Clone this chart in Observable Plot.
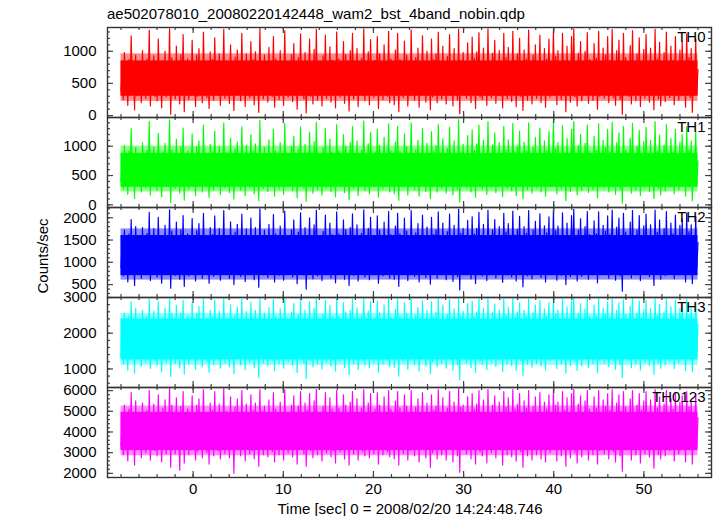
<!DOCTYPE html>
<html><head><meta charset="utf-8">
<script src="https://cdn.jsdelivr.net/npm/d3@7"></script>
<script src="https://cdn.jsdelivr.net/npm/@observablehq/plot@0.6"></script>
<style>
body{margin:0;background:#fff;}
#chart{position:relative;width:717px;height:516px;overflow:hidden;font-family:"Liberation Sans",Arial,sans-serif;color:#000;background:#fff;}
.t{position:absolute;font-size:15px;line-height:15px;white-space:nowrap;}
#chart svg{position:absolute;left:0;}
</style></head><body>
<div id="chart"></div>
<script>
const title = "ae502078010_20080220142448_wam2_bst_4band_nobin.qdp";
const xLabel = "Time [sec] 0 = 2008/02/20 14:24:48.746";
const yLabel = "Counts/sec";
const panelNames = ["TH0", "TH1", "TH2", "TH3", "TH0123"];
const colors = ["#ff0000", "#00ff00", "#0000ff", "#00ffff", "#ff00ff"];
const tStart = -8, tEnd = 56;
const xDomain = [-9.5, 57.5];
const xMajor = [0, 10, 20, 30, 40, 50];
const xMinor = [-8, -6, -4, -2, 0, 2, 4, 6, 8, 10, 12, 14, 16, 18, 20, 22, 24, 26, 28, 30, 32, 34, 36, 38, 40, 42, 44, 46, 48, 50, 52, 54, 56];
const yDomains = [[-30, 1370], [-45, 1490], [210, 2230], [480, 3000], [1800, 6150]];
const yMajor = [[0, 500, 1000], [0, 500, 1000], [500, 1000, 1500, 2000], [1000, 2000, 3000], [2000, 3000, 4000, 5000, 6000]];
const yMinor = [
  [0, 100, 200, 300, 400, 500, 600, 700, 800, 900, 1000, 1100, 1200, 1300],
  [0, 100, 200, 300, 400, 500, 600, 700, 800, 900, 1000, 1100, 1200, 1300, 1400],
  [300, 400, 500, 600, 700, 800, 900, 1000, 1100, 1200, 1300, 1400, 1500, 1600, 1700, 1800, 1900, 2000, 2100, 2200],
  [600, 800, 1000, 1200, 1400, 1600, 1800, 2000, 2200, 2400, 2600, 2800, 3000],
  [2000, 2200, 2400, 2600, 2800, 3000, 3200, 3400, 3600, 3800, 4000, 4200, 4400, 4600, 4800, 5000, 5200, 5400, 5600, 5800, 6000]
];
// solid core of each noisy band, and its softer fringe (counts/sec)
const coreLo = [300, 300, 700, 1250, 3100];
const coreHi = [850, 880, 1600, 2400, 4950];
const edgeLo = [220, 220, 600, 1100, 2850];
const edgeHi = [960, 1000, 1750, 2550, 5250];

// light-curve samples (alternating low / high excursions)
const th0 = [
380,760, 250,980, 420,700, 160,870, 330,1240, 400,780, 90,940, 310,720,
440,820, 200,1010, 350,690, 270,880, 410,1330, 150,760, 360,930, 300,700,
230,1190, 420,740, 120,860, 380,1000, 290,680, 400,1350, 20,900, 340,770,
260,1080, 430,710, 180,950, 350,1260, 60,800, 390,880, 250,730, 320,1170,
410,690, 140,940, 300,1040, 370,760, 200,1300, 440,830, 280,720, 110,990,
350,870, 240,1210, 420,700, 310,960, 160,780, 390,1340, 270,850, 430,740,
190,1100, 360,760, 80,910, 330,1020, 400,700, 230,1280, 350,800, 140,960,
420,730, 280,1150, 310,870, 170,990, 380,710, 50,1360, 340,820, 260,940,
400,780, 210,1060, 370,700, 300,1230, 130,880, 420,760, 250,1010, 340,690,
160,1320, 390,830, 290,720, 440,950, 220,1120, 350,770, 100,900, 320,1270,
380,710, 260,980, 40,850, 410,1190, 300,740, 180,1030, 360,1340, 240,800,
430,690, 150,930, 340,1250, 270,780, 390,1070, 210,860, 320,720, 120,1300,
370,880, 290,760, 410,1150, 190,950, 350,700, 70,1010, 400,1280, 260,790,
320,1040, 140,730, 380,890, 310,1350, 230,770, 420,990, 170,1180, 350,710,
280,860, 400,1230, 110,960, 360,740, 250,1100, 430,800, 300,1310, 200,880,
390,720, 170,1020, 330,1280, 60,870, 410,750, 280,1160, 350,940, 150,690,
310,1330, 420,780, 240,900, 370,1050, 130,760, 330,1240, 400,830, 210,1000,
360,700, 90,1190, 290,870, 430,960, 200,1300, 340,750, 260,1080, 400,720,
180,920, 380,1260, 320,790, 150,1040, 410,700, 240,1340, 30,860, 350,980,
420,760, 270,1130, 360,700, 200,1220, 330,890, 110,990, 390,1290, 290,740,
250,1050, 400,810, 160,1350, 340,730, 280,970, 430,1170, 190,780, 360,1010,
310,690, 120,1280, 380,900, 260,1060, 410,740, 220,1310, 350,860, 140,960,
390,1200, 300,750, 80,1020, 370,880, 240,1330, 420,710, 180,940, 330,1100,
270,800, 410,1250, 200,730, 350,1040, 130,880, 390,1190, 290,770, 440,1340,
340,920, 170,1010, 400,760, 250,1280, 360,850, 60,1080, 320,720, 210,1230,
420,1350, 290,800, 150,970, 380,1150, 230,740, 410,1000, 330,1290, 190,870,
360,720, 240,1120, 410,890, 100,1310, 300,780, 370,1050, 270,940, 430,1230,
200,860, 350,1340, 280,750, 160,1010, 390,1170, 250,820, 20,1280, 340,900,
410,770, 300,1090, 180,1320, 360,730, 230,960, 400,1210, 140,840, 320,1030,
270,1260, 430,800, 210,1050, 340,710, 90,1340, 380,880, 260,1140, 150,760,
390,980, 220,1300, 350,740, 280,1080, 420,860, 170,1230, 330,700, 240,1020,
310,1150, 410,760, 130,1270, 360,900, 280,1040, 50,800, 400,1190, 330,720
];
const th1 = [
400,800, 270,1010, 440,720, 180,920, 350,1300, 410,790, 110,980, 330,750,
460,860, 220,1060, 370,710, 290,930, 420,1420, 170,780, 380,990, 320,730,
250,1220, 440,770, 140,900, 400,1050, 310,700, 420,1450, 40,940, 360,810,
280,1120, 450,740, 200,1000, 370,1310, 80,830, 410,920, 270,760, 340,1210,
430,720, 160,990, 320,1090, 390,790, 220,1360, 460,870, 300,750, 130,1030,
370,910, 260,1260, 440,730, 330,1000, 180,810, 410,1400, 290,890, 450,770,
210,1140, 380,790, 100,950, 350,1070, 420,730, 250,1330, 370,840, 160,1010,
440,760, 300,1200, 330,910, 190,1040, 400,740, 70,1440, 360,860, 280,980,
420,810, 230,1110, 390,730, 320,1290, 150,920, 440,790, 270,1060, 360,720,
180,1390, 410,870, 310,750, 460,1000, 240,1170, 370,800, 120,940, 340,1330,
400,740, 280,1030, 60,890, 430,1240, 320,770, 200,1080, 380,1410, 260,840,
450,720, 170,980, 360,1300, 290,810, 410,1120, 230,900, 340,750, 140,1370,
390,920, 310,790, 430,1200, 210,1000, 370,730, 90,1060, 420,1340, 280,820,
340,1090, 160,760, 400,930, 330,1430, 250,800, 440,1040, 190,1240, 370,740,
300,900, 420,1290, 130,1010, 380,770, 270,1150, 450,840, 320,1380, 220,920,
410,750, 190,1070, 350,1340, 80,910, 430,780, 300,1210, 370,990, 170,720,
330,1400, 440,810, 260,940, 390,1100, 150,790, 350,1300, 420,870, 230,1050,
380,730, 110,1250, 310,910, 450,1010, 220,1370, 360,780, 280,1130, 420,750,
200,960, 400,1320, 340,820, 170,1090, 430,730, 260,1450, 50,900, 370,1030,
440,790, 290,1180, 380,730, 220,1280, 350,930, 130,1040, 410,1360, 310,770,
270,1100, 420,840, 180,1420, 360,760, 300,1020, 450,1230, 210,810, 380,1060,
330,720, 140,1340, 400,940, 280,1110, 430,770, 240,1390, 370,900, 160,1000,
410,1260, 320,780, 100,1070, 390,920, 260,1400, 440,740, 200,980, 350,1150,
290,830, 430,1310, 220,760, 370,1090, 150,920, 410,1250, 310,800, 460,1440,
360,960, 190,1060, 420,790, 270,1350, 380,890, 70,1130, 340,750, 230,1290,
440,1420, 310,840, 170,1010, 400,1200, 250,770, 430,1050, 350,1360, 210,910,
380,750, 260,1170, 430,930, 120,1380, 320,810, 390,1100, 290,980, 450,1290,
220,900, 370,1410, 300,780, 180,1060, 410,1230, 270,860, 30,1340, 360,940,
430,800, 320,1140, 200,1390, 380,760, 250,1000, 420,1270, 160,880, 340,1080,
290,1320, 450,830, 230,1100, 360,740, 110,1420, 400,920, 280,1190, 170,790,
410,1020, 240,1370, 370,770, 300,1130, 440,900, 190,1290, 350,730, 260,1070,
330,1200, 430,790, 150,1330, 380,940, 300,1090, 70,830, 420,1250, 350,750
];
const th2 = [
880,1420, 700,1720, 920,1380, 560,1640, 820,1960, 900,1450, 480,1800, 840,1400,
940,1520, 640,1780, 860,1370, 750,1650, 910,2120, 590,1440, 870,1760, 780,1390,
670,2010, 930,1430, 530,1600, 890,1830, 760,1360, 910,2180, 420,1700, 850,1480,
710,1900, 950,1400, 620,1730, 860,2050, 460,1530, 900,1640, 700,1420, 820,1980,
920,1380, 580,1710, 790,1870, 880,1460, 640,2100, 960,1540, 760,1410, 530,1780,
850,1620, 690,2040, 930,1390, 800,1760, 600,1480, 910,2160, 740,1580, 950,1430,
640,1910, 870,1450, 500,1680, 830,1850, 920,1380, 680,2080, 860,1510, 570,1750,
940,1430, 760,1990, 810,1600, 610,1780, 890,1400, 440,2200, 840,1560, 720,1720,
910,1480, 660,1850, 880,1380, 790,2070, 560,1640, 930,1460, 710,1810, 850,1390,
600,2150, 900,1570, 770,1420, 960,1730, 670,1950, 860,1490, 520,1680, 820,2110,
890,1410, 720,1780, 400,1600, 920,2000, 780,1440, 630,1840, 880,2170, 700,1540,
950,1380, 590,1690, 840,2060, 740,1500, 900,1880, 650,1620, 810,1410, 540,2130,
870,1640, 770,1460, 930,1950, 620,1730, 850,1390, 480,1780, 910,2090, 710,1520,
820,1840, 580,1430, 890,1650, 780,2180, 670,1490, 940,1760, 610,2010, 860,1410,
750,1600, 910,2040, 530,1720, 870,1440, 700,1900, 950,1530, 790,2140, 640,1620,
900,1420, 620,1810, 840,2100, 460,1640, 930,1450, 760,1990, 860,1700, 590,1380,
800,2160, 940,1500, 690,1660, 880,1870, 560,1460, 830,2060, 910,1560, 660,1790,
870,1400, 510,2010, 770,1620, 950,1730, 640,2130, 850,1470, 730,1880, 900,1420,
610,1690, 890,2080, 820,1520, 570,1830, 920,1410, 680,2190, 380,1650, 860,1760,
940,1460, 740,1940, 870,1400, 630,2020, 830,1640, 520,1760, 910,2120, 770,1470,
700,1850, 920,1550, 590,2170, 850,1450, 760,1730, 950,1960, 650,1520, 880,1800,
810,1390, 550,2100, 900,1680, 720,1870, 930,1460, 670,2150, 860,1610, 580,1740,
910,2030, 780,1470, 450,1800, 880,1650, 700,2160, 940,1420, 630,1730, 840,1920,
740,1530, 920,2090, 660,1440, 860,1820, 560,1660, 900,2020, 790,1500, 950,2180,
850,1710, 600,1810, 910,1480, 710,2110, 870,1590, 500,1880, 820,1430, 680,2050,
930,2190, 770,1560, 580,1720, 890,1980, 690,1470, 920,1800, 840,2140, 620,1620,
880,1450, 720,1930, 940,1640, 540,2130, 800,1520, 870,1830, 740,1700, 950,2040,
640,1620, 860,2170, 790,1480, 600,1790, 910,1990, 700,1580, 350,2100, 850,1680,
930,1510, 810,1900, 650,2160, 880,1460, 720,1720, 940,2050, 590,1590, 830,1820,
760,2080, 950,1540, 680,1840, 860,1430, 480,2170, 900,1670, 740,1950, 620,1500,
910,1760, 700,2140, 870,1470, 780,1880, 940,1640, 630,2060, 850,1420, 720,1830,
820,1970, 930,1520, 560,2100, 880,1690, 790,1840, 520,1560, 920,2030, 860,1450
];
const th3 = [
1350,2220, 1150,2560, 1400,2180, 960,2480, 1280,2880, 1380,2250, 880,2700, 1310,2200,
1420,2340, 1080,2640, 1330,2170, 1200,2480, 1390,2960, 1010,2260, 1340,2620, 1230,2190,
1110,2890, 1410,2240, 920,2430, 1360,2700, 1190,2160, 1380,2990, 790,2560, 1300,2300,
1160,2780, 1430,2200, 1030,2570, 1320,2920, 850,2340, 1370,2470, 1140,2230, 1290,2860,
1400,2180, 990,2550, 1240,2750, 1350,2280, 1060,2970, 1440,2360, 1200,2220, 910,2640,
1310,2450, 1120,2930, 1410,2190, 1260,2620, 1020,2290, 1380,3000, 1180,2400, 1430,2240,
1060,2800, 1340,2260, 870,2510, 1290,2730, 1400,2180, 1110,2950, 1330,2330, 980,2610,
1420,2230, 1200,2870, 1260,2430, 1030,2640, 1360,2200, 760,2990, 1300,2380, 1170,2560,
1390,2290, 1090,2720, 1350,2180, 1240,2940, 950,2460, 1410,2270, 1150,2680, 1310,2200,
1020,3000, 1370,2390, 1210,2230, 1440,2590, 1100,2830, 1330,2310, 900,2510, 1280,2970,
1360,2210, 1160,2650, 730,2420, 1400,2880, 1230,2260, 1060,2700, 1350,2990, 1140,2370,
1430,2180, 1000,2530, 1300,2920, 1190,2320, 1380,2770, 1080,2450, 1270,2210, 940,2980,
1340,2470, 1220,2280, 1410,2850, 1040,2590, 1320,2190, 840,2640, 1390,2960, 1150,2340,
1280,2710, 980,2250, 1370,2490, 1230,3000, 1110,2300, 1420,2620, 1030,2880, 1330,2210,
1190,2430, 1390,2900, 910,2570, 1350,2270, 1140,2790, 1440,2360, 1240,2990, 1070,2450,
1400,2230, 1050,2660, 1310,2960, 800,2470, 1410,2260, 1200,2860, 1340,2560, 990,2180,
1250,2980, 1420,2340, 1120,2500, 1360,2720, 940,2280, 1290,2910, 1390,2370, 1090,2640,
1340,2200, 870,2880, 1210,2430, 1430,2590, 1060,2990, 1320,2290, 1170,2790, 1380,2230,
1020,2520, 1370,2940, 1270,2350, 960,2680, 1400,2200, 1110,3000, 700,2480, 1330,2610,
1420,2280, 1180,2830, 1350,2190, 1040,2900, 1300,2470, 900,2600, 1390,2970, 1210,2290,
1130,2700, 1400,2390, 980,2990, 1330,2260, 1200,2580, 1440,2820, 1070,2330, 1360,2650,
1270,2190, 930,2950, 1380,2510, 1150,2730, 1410,2280, 1090,2990, 1340,2440, 960,2600,
1390,2860, 1230,2290, 820,2640, 1360,2480, 1130,2980, 1420,2220, 1050,2580, 1310,2790,
1160,2370, 1410,2920, 1080,2260, 1340,2680, 970,2470, 1380,2860, 1230,2330, 1440,3000,
1330,2550, 1010,2650, 1400,2290, 1140,2960, 1350,2430, 880,2740, 1280,2230, 1100,2900,
1420,2990, 1210,2390, 960,2560, 1370,2830, 1090,2290, 1400,2680, 1300,2980, 1040,2460,
1360,2260, 1150,2790, 1430,2480, 890,2960, 1250,2370, 1350,2700, 1170,2540, 1440,2880,
1060,2440, 1340,2990, 1230,2300, 990,2640, 1410,2850, 1110,2410, 760,2940, 1320,2520,
1420,2340, 1260,2750, 1030,2980, 1380,2260, 1140,2560, 1430,2900, 970,2430, 1290,2670,
1190,2920, 1440,2360, 1100,2690, 1330,2220, 850,2990, 1390,2500, 1160,2810, 1020,2310,
1400,2600, 1120,2970, 1350,2280, 1220,2740, 1430,2480, 1010,2930, 1320,2200, 1180,2690,
1280,2830, 1420,2350, 960,2950, 1370,2530, 1250,2700, 920,2400, 1410,2880, 1340,2260
];
const th0123 = [
3300,4700, 2900,5300, 3400,4600, 2600,5100, 3150,5900, 3350,4750, 2400,5500, 3200,4650,
3380,4900, 2750,5400, 3250,4620, 3000,5050, 3350,6000, 2650,4780, 3280,5350, 3100,4640,
2850,5800, 3400,4720, 2550,5150, 3300,5550, 2950,4600, 3350,6100, 2300,5300, 3200,4850,
2950,5650, 3420,4680, 2150,5250, 3220,5950, 2500,4900, 3340,5100, 2900,4700, 3150,5750,
3360,4620, 2650,5300, 3050,5600, 3300,4820, 2750,6050, 3430,4950, 3000,4700, 2450,5400,
3200,5050, 2850,5950, 3400,4640, 3100,5350, 2700,4850, 3330,6100, 2950,5000, 3420,4720,
2750,5700, 3300,4800, 2000,5200, 3150,5600, 3380,4630, 2850,6000, 3250,4900, 2600,5350,
3400,4720, 2950,5800, 3100,5050, 2700,5400, 3330,4650, 2350,6050, 3200,5000, 2900,5250,
3360,4850, 2800,5550, 3300,4610, 3050,5900, 2550,5100, 3400,4800, 2900,5450, 3220,4640,
2650,6050, 3350,4950, 3000,4700, 3430,5300, 2800,5750, 3260,4880, 2450,5250, 3150,5950,
3320,4650, 2950,5400, 2350,5050, 3380,5850, 3100,4800, 2750,5500, 3300,6050, 2900,4950,
3420,4620, 2600,5250, 3200,5900, 3000,4900, 3350,5650, 2800,5100, 3100,4700, 2500,6000,
3300,5150, 3050,4780, 3400,5800, 2700,5300, 3250,4630, 2400,5450, 3380,5950, 2950,4900,
3150,5600, 2650,4720, 3340,5150, 3050,6050, 2850,4850, 3420,5400, 2750,5850, 3250,4660,
2950,5100, 3380,5900, 2450,5300, 3300,4800, 2900,5700, 3430,4950, 3050,6000, 2800,5100,
3400,4700, 2700,5500, 3200,5950, 2400,5150, 3420,4750, 2950,5800, 3280,5250, 2650,4640,
3100,6000, 3400,4880, 2850,5200, 3330,5600, 2550,4800, 3200,5900, 3380,4950, 2750,5400,
3300,4630, 2300,5800, 3000,5050, 3430,5250, 2700,6050, 3250,4820, 2900,5650, 3360,4700,
2650,5150, 3350,5950, 3200,4900, 2550,5450, 3400,4640, 2850,6100, 2050,5200, 3280,5300,
3420,4800, 2950,5700, 3330,4620, 2700,5850, 3200,5100, 2450,5350, 3380,6000, 3050,4850,
2850,5550, 3400,4950, 2500,6050, 3300,4760, 3000,5300, 3430,5750, 2750,4900, 3320,5450,
3150,4650, 2400,5950, 3380,5200, 2900,5650, 3420,4800, 2800,6050, 3270,5100, 2600,5350,
3400,5850, 3050,4820, 2300,5500, 3350,5150, 2850,6000, 3420,4680, 2650,5250, 3200,5700,
2900,4900, 3410,5900, 2700,4750, 3300,5450, 2550,5100, 3380,5800, 3000,4850, 3440,6050,
3250,5300, 2600,5450, 3400,4800, 2850,5950, 3330,5050, 2350,5650, 3150,4700, 2750,5850,
3420,6050, 3000,4950, 2500,5350, 3360,5750, 2800,4800, 3400,5500, 3200,6000, 2650,5100,
3340,4720, 2900,5700, 3430,5150, 2450,6000, 3100,4900, 3300,5550, 2950,5250, 3440,5850,
2700,5050, 3300,6050, 3050,4830, 2550,5400, 3400,5800, 2850,5000, 2100,5950, 3250,5200,
3420,4880, 3150,5600, 2650,6000, 3370,4750, 2900,5300, 3430,5850, 2500,5050, 3200,5500,
2950,5950, 3440,4900, 2800,5550, 3300,4640, 2250,6050, 3380,5150, 2900,5700, 2700,4800,
3400,5350, 2850,6000, 3330,4780, 3100,5600, 3430,5100, 2600,5900, 3250,4650, 2950,5450,
3200,5750, 3420,4850, 2550,5950, 3360,5200, 3150,5500, 2450,4950, 3400,5850, 3300,4700
];
const series = [th0, th1, th2, th3, th0123];

const W = 717, ML = 107, MR = 6, PH = 90, TOP0 = 27;
const PW = W - ML - MR;
const chart = document.getElementById("chart");
const font = "'Liberation Sans', Arial, sans-serif";
const tickColor = "#444";
const fmt = d => String(d);

series.forEach((vals, i) => {
  const n = vals.length;
  const data = vals.map((v, j) => ({t: tStart + j * (tEnd - tStart) / (n - 1), v}));
  const last = i === series.length - 1;
  const marks = [
    Plot.rect([0], {x1: () => tStart, x2: () => tEnd, y1: () => edgeLo[i], y2: () => edgeHi[i], fill: colors[i], fillOpacity: 0.45}),
    Plot.rect([0], {x1: () => tStart, x2: () => tEnd, y1: () => coreLo[i], y2: () => coreHi[i], fill: colors[i]}),
    Plot.line(data, {x: "t", y: "v", stroke: colors[i], strokeWidth: 1.2}),
    Plot.tickX(xMinor, {x: d => d, insetTop: PH - 3, stroke: tickColor, strokeWidth: 1.2}),
    Plot.tickX(xMinor, {x: d => d, insetBottom: PH - 3, stroke: tickColor, strokeWidth: 1.2}),
    Plot.tickX(xMajor, {x: d => d, insetTop: PH - 6, stroke: tickColor, strokeWidth: 1.2}),
    Plot.tickX(xMajor, {x: d => d, insetBottom: PH - 6, stroke: tickColor, strokeWidth: 1.2}),
    Plot.tickY(yMinor[i], {y: d => d, insetRight: PW - 3, stroke: tickColor, strokeWidth: 1.2}),
    Plot.tickY(yMinor[i], {y: d => d, insetLeft: PW - 3, stroke: tickColor, strokeWidth: 1.2}),
    Plot.tickY(yMajor[i], {y: d => d, insetRight: PW - 6, stroke: tickColor, strokeWidth: 1.2}),
    Plot.tickY(yMajor[i], {y: d => d, insetLeft: PW - 6, stroke: tickColor, strokeWidth: 1.2}),
    Plot.axisY(yMajor[i], {anchor: "left", tickSize: 0, tickPadding: 11, fontSize: 15, fill: "#000", label: null, tickFormat: fmt}),
    Plot.frame({stroke: "#333", strokeWidth: 1.4}),
    Plot.text([panelNames[i]], {frameAnchor: "top-right", dx: -6, dy: 4, textAnchor: "end", lineAnchor: "top", fontSize: 15, fill: "#000"})
  ];
  if (last) marks.push(Plot.axisX(xMajor, {anchor: "bottom", tickSize: 0, tickPadding: 6, fontSize: 15, fill: "#000", label: null, tickFormat: fmt}));
  const svg = Plot.plot({
    width: W, height: PH,
    marginLeft: ML, marginRight: MR, marginTop: 0, marginBottom: 0,
    x: {domain: xDomain, axis: null},
    y: {domain: yDomains[i], axis: null},
    style: {background: "transparent", overflow: "visible", fontFamily: font, fontSize: "15px"},
    marks
  });
  svg.style.position = "absolute";
  svg.style.top = (TOP0 + i * PH) + "px";
  svg.style.left = "0px";
  svg.style.overflow = "visible";
  svg.style.background = "transparent";
  chart.appendChild(svg);
});

function addText(txt, css) {
  const d = document.createElement("div");
  d.className = "t";
  d.textContent = txt;
  Object.assign(d.style, css);
  chart.appendChild(d);
}
addText(title, {left: "107px", top: "6px"});
addText(xLabel, {left: "410px", top: "501px", transform: "translateX(-50%)"});
addText(yLabel, {left: "42px", top: "256px", transform: "translate(-50%,-50%) rotate(-90deg)"});
</script>
</body></html>
